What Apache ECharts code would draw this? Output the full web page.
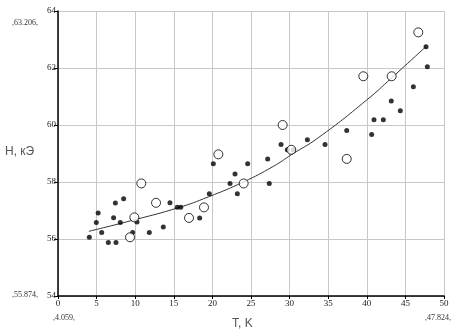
<!DOCTYPE html>
<html>
<head>
<meta charset="utf-8">
<script src="https://cdn.jsdelivr.net/npm/echarts@6/dist/echarts.min.js"></script>
<style>html,body{margin:0;padding:0;background:#fff}#c{width:458px;height:336px}</style>
</head>
<body>
<div id="c"></div>
<script>
const xTicks = [0, 5, 10, 15, 20, 25, 30, 35, 40, 45, 50];
const yTicks = [54, 56, 58, 60, 62, 64];
const filledPts = [
  [4.06,56.06],[4.96,56.58],[5.2,56.91],[5.66,56.23],[6.52,55.88],[7.2,56.75],[7.43,57.26],
  [7.51,55.88],[8.07,56.58],[8.5,57.41],[9.67,56.23],[10.23,56.6],[11.83,56.23],[13.64,56.42],
  [14.5,57.27],[15.45,57.11],[15.9,57.11],[18.35,56.74],[19.6,57.59],[20.12,58.64],[22.28,57.95],
  [22.93,58.28],[23.23,57.59],[24.57,58.64],[27.16,58.81],[27.37,57.95],[28.89,59.32],[29.7,59.13],
  [30.5,59.13],[32.3,59.48],[34.59,59.32],[37.4,59.81],[40.63,59.67],[40.93,60.18],[42.14,60.18],
  [43.17,60.84],[44.34,60.5],[46.03,61.34],[47.67,62.75],[47.84,62.04]
];
const openPts = [
  [9.33,56.06],[9.89,56.76],[10.79,57.95],[12.7,57.27],[16.97,56.74],[18.91,57.11],[20.77,58.97],
  [24.05,57.95],[29.1,60.0],[30.22,59.13],[37.4,58.81],[39.55,61.71],[43.22,61.71],[46.67,63.25]
];
const fitCurve = [
  [4.0,56.27],[10.0,56.68],[15.6,57.1],[19.5,57.48],[24.0,58.0],[27.9,58.55],[30.3,58.97],
  [33.7,59.55],[40.0,60.88],[43.2,61.65],[47.7,62.76]
];
const cornerTexts = [",63.206,", ",55.874,", ",4.059,", ",47.824,"];
const yTitle = "H, кЭ";
const xTitle = "T, K";

const chart = echarts.init(document.getElementById('c'), null, {renderer: 'canvas'});
const tickFont = {fontFamily: 'Liberation Serif', fontSize: 9, color: '#222'};
chart.setOption({
  animation: false,
  backgroundColor: '#fff',
  grid: {left: 58, right: 14, top: 11, bottom: 40, containLabel: false},
  xAxis: {
    type: 'value', min: xTicks[0], max: xTicks[xTicks.length-1], interval: 5,
    axisLine: {onZero: false, lineStyle: {color: '#000', width: 1.5}},
    axisTick: {show: true, inside: false, length: 3, lineStyle: {color: '#000'}},
    axisLabel: Object.assign({margin: 3}, tickFont),
    splitLine: {show: true, lineStyle: {color: '#c8c8c8', width: 1}}
  },
  yAxis: {
    type: 'value', min: yTicks[0], max: yTicks[yTicks.length-1], interval: 2,
    axisLine: {onZero: false, lineStyle: {color: '#000', width: 1.5}},
    axisTick: {show: true, length: 4, lineStyle: {color: '#000'}},
    axisLabel: Object.assign({margin: 2}, tickFont),
    splitLine: {show: true, lineStyle: {color: '#c8c8c8', width: 1}}
  },
  series: [
    {type: 'line', data: fitCurve, smooth: true, showSymbol: false, symbol: 'none',
     lineStyle: {color: '#333', width: 1}, z: 2},
    {type: 'scatter', data: filledPts, symbol: 'circle', symbolSize: 5,
     itemStyle: {color: '#000'}, z: 3},
    {type: 'scatter', data: openPts, symbol: 'circle', symbolSize: 9,
     itemStyle: {color: '#fff', borderColor: '#000', borderWidth: 1}, z: 4}
  ],
  graphic: [
    {type: 'text', left: 12, top: 19, style: {text: cornerTexts[0], font: '8px Liberation Serif', fill: '#333'}},
    {type: 'text', left: 12, top: 291, style: {text: cornerTexts[1], font: '8px Liberation Serif', fill: '#333'}},
    {type: 'text', left: 53, top: 314, style: {text: cornerTexts[2], font: '8px Liberation Serif', fill: '#333'}},
    {type: 'text', left: 425, top: 314, style: {text: cornerTexts[3], font: '8px Liberation Serif', fill: '#333'}},
    {type: 'text', left: 5, top: 146, style: {text: yTitle, font: '12px Liberation Sans', fill: '#555'}},
    {type: 'text', left: 232, top: 318, style: {text: xTitle, font: '12px Liberation Sans', fill: '#555'}}
  ]
});
</script>
</body>
</html>
